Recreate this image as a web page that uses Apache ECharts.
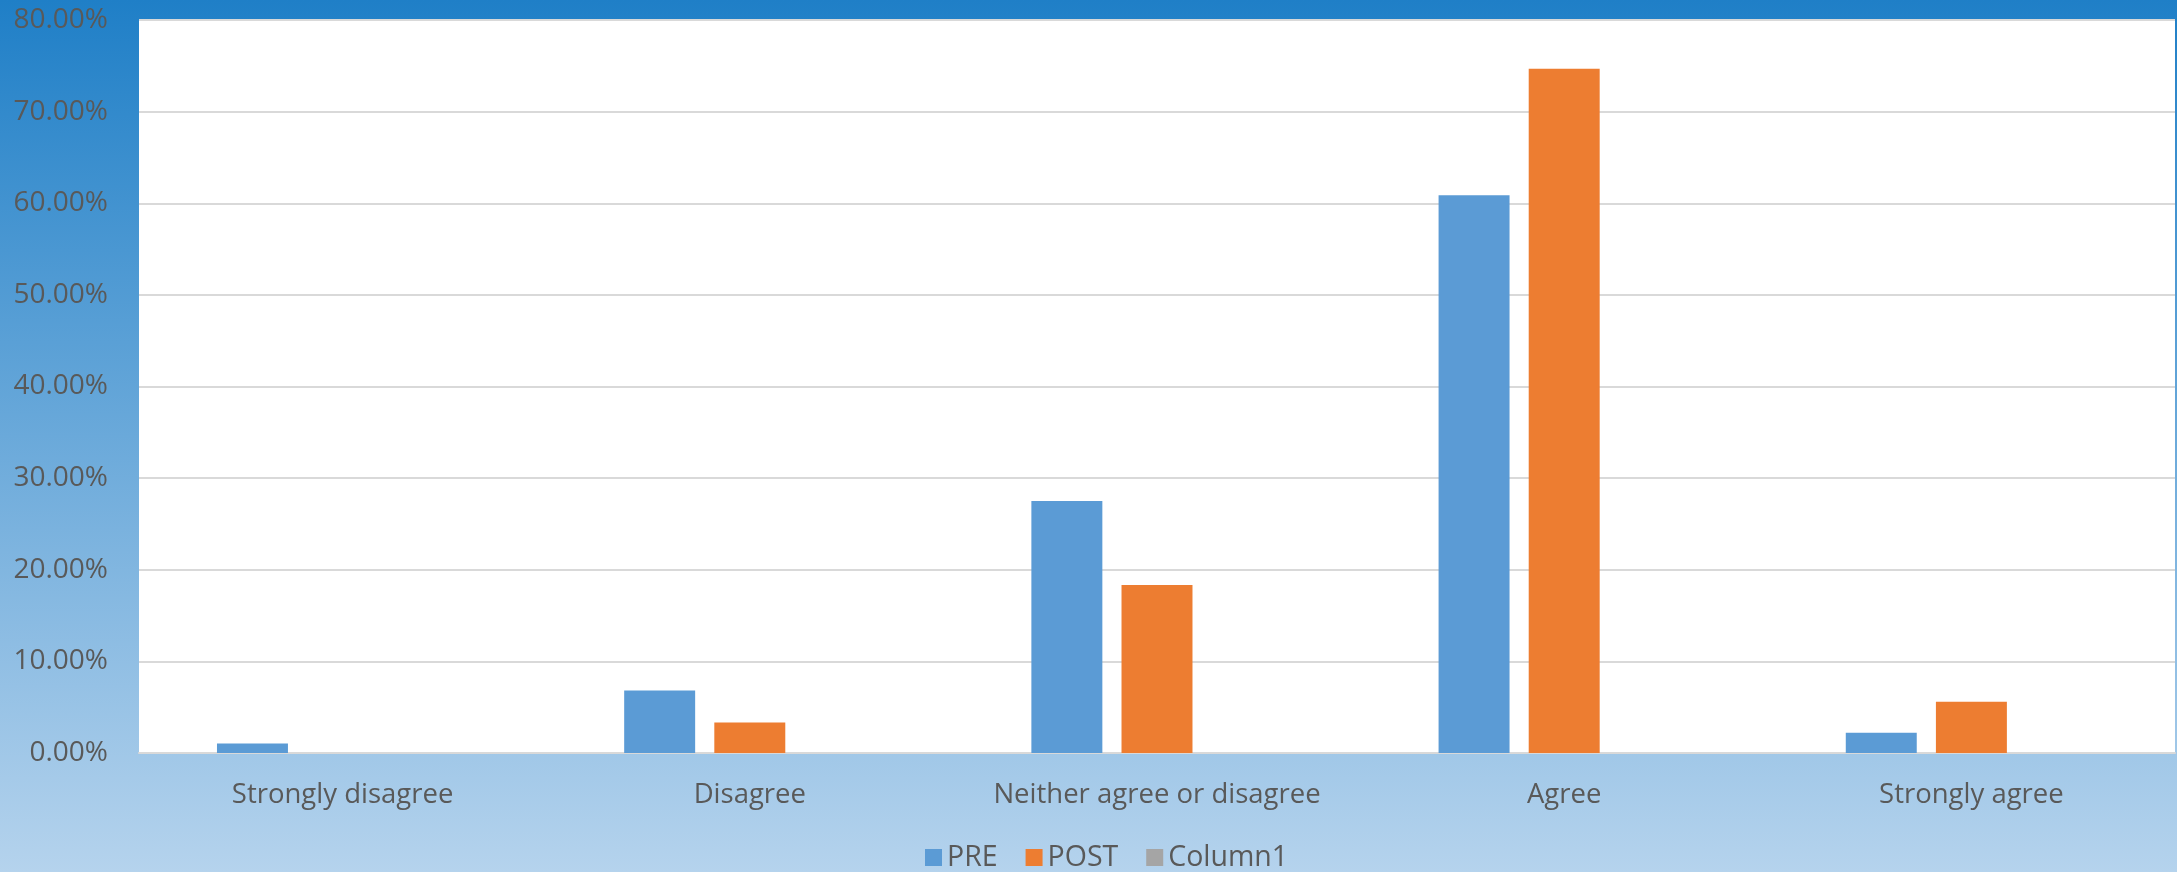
<!DOCTYPE html>
<html><head><meta charset="utf-8">
<script src="https://cdn.jsdelivr.net/npm/echarts@6/dist/echarts.min.js"></script>
<style>html,body{margin:0;padding:0;}#c{width:2177px;height:872px;}</style>
</head><body><div id="c"></div>
<script>
const categories = ['Strongly disagree','Disagree','Neither agree or disagree','Agree','Strongly agree'];
const preValues = [1.04, 6.83, 27.5, 60.86, 2.22];
const postValues = [0, 3.34, 18.33, 74.68, 5.6];
const column1Values = [0, 0, 0, 0, 0];
const yTicks = {min: 0, max: 80, interval: 10};

const font = '"Open Sans", sans-serif';
const chart = echarts.init(document.getElementById('c'));
chart.setOption({
  animation: false,
  backgroundColor: new echarts.graphic.LinearGradient(0,0,0,1,[
    {offset:0,color:'#1f7fc7'},{offset:1,color:'#b5d3ed'}]),
  grid: {left:139, right:2, top:20, bottom:119, show:true, backgroundColor:'#ffffff', borderWidth:0},
  legend: {
    data:['PRE','POST','Column1'], left:925, top:843, padding:0,
    itemWidth:17, itemHeight:17, itemGap:28, icon:'rect',
    textStyle:{fontFamily:font, fontSize:28.5, color:'#595959', padding:[0,0,0,0]}
  },
  xAxis: {
    type:'category', data:categories,
    axisLine:{lineStyle:{color:'#d9d9d9', width:2}},
    axisTick:{show:false},
    axisLabel:{fontFamily:font, fontSize:27.5, color:'#595959', margin:28, interval:0, hideOverlap:false}
  },
  yAxis: {
    type:'value', min:yTicks.min, max:yTicks.max, interval:yTicks.interval,
    axisLine:{show:false}, axisTick:{show:false},
    splitLine:{lineStyle:{color:'#d9d9d9', width:2}},
    axisLabel:{fontFamily:font, fontSize:28, color:'#595959', margin:31,
      formatter:v=>v.toFixed(2)+'%'}
  },
  series: [
    {name:'PRE', type:'bar', data:preValues, itemStyle:{color:'#5b9bd5'}, barGap:'27%', barCategoryGap:'38.3%'},
    {name:'POST', type:'bar', data:postValues, itemStyle:{color:'#ed7d31'}, barGap:'27%', barCategoryGap:'38.3%'},
    {name:'Column1', type:'bar', data:column1Values, itemStyle:{color:'#a5a5a5'}, barGap:'27%', barCategoryGap:'38.3%'}
  ]
});
</script></body></html>
